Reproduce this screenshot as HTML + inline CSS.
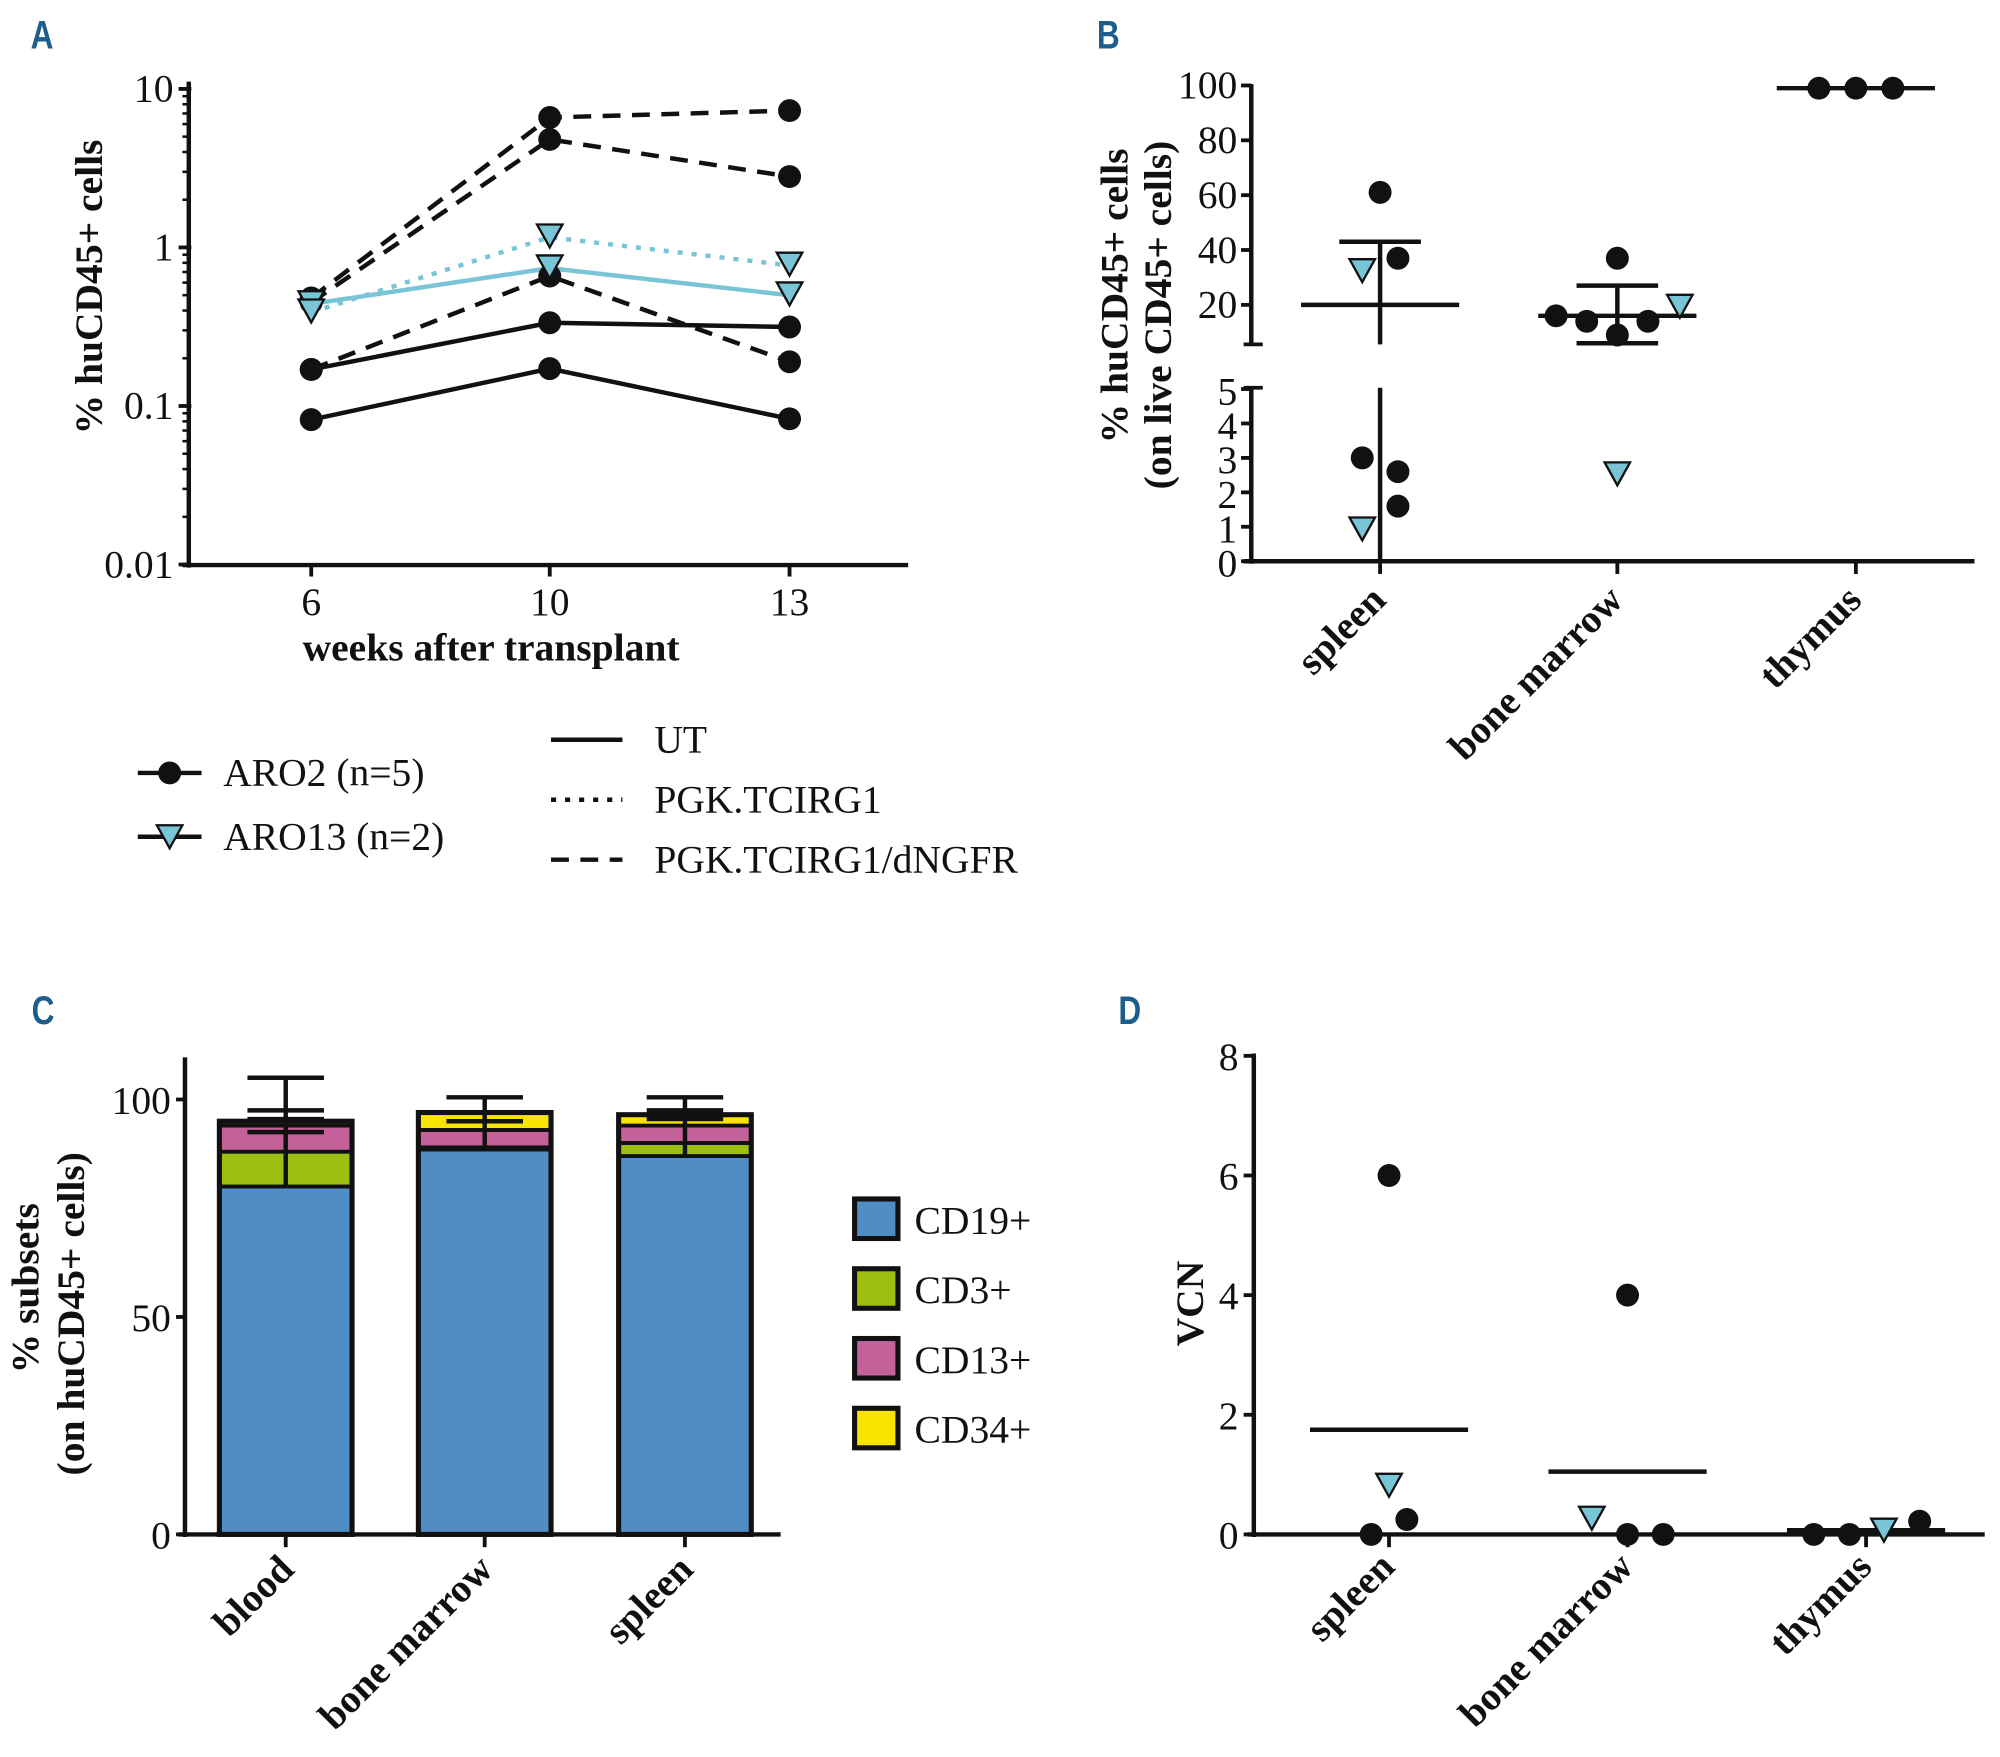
<!DOCTYPE html>
<html><head><meta charset="utf-8">
<style>
html,body{margin:0;padding:0;background:#fff;}
svg{display:block;}
text{font-family:"Liberation Serif",serif;fill:#111;}
.pl{font-family:"Liberation Sans",sans-serif;font-weight:bold;fill:#1d5e8c;font-size:31px;}
.tk{font-size:31px;}
.ttl{font-size:31px;font-weight:bold;}
</style></head>
<body>
<svg id="fig" width="2000" height="1757" viewBox="0 0 1568 1377.5" xmlns="http://www.w3.org/2000/svg">
<text class="pl" x="30" y="38" transform="scale(0.8,1)">A</text>
<text class="pl" x="1075" y="38" transform="scale(0.8,1)">B</text>
<text class="pl" x="31" y="803" transform="scale(0.8,1)">C</text>
<text class="pl" x="1096" y="803" transform="scale(0.8,1)">D</text>
<g id="A"></g>
<g id="B"></g>
<g id="C"></g>
<g id="D"></g>
</svg>
<script>
// ---- Panel A data ----
const aWeeks = ["6","10","13"];
const aTicks = [10,1,0.1,0.01];
const aTickLabels = ["10","1","0.1","0.01"];
const aDash1 = [0.48,6.6,7.3];
const aDash2 = [0.45,4.8,2.8];
const aDash3 = [0.17,0.66,0.19];
const aSolid1 = [0.17,0.335,0.315];
const aSolid2 = [0.082,0.172,0.083];
const aCyanSolid = [0.44,0.74,0.50];
const aCyanDot = [0.39,1.16,0.77];
// ---- Panel B data ----
const bCats = ["spleen","bone marrow","thymus"];
const bUpperTicks = [20,40,60,80,100];
const bLowerTicks = [0,1,2,3,4,5];
const bSpleenDots = [61,37,3.0,2.6,1.6];
const bSpleenTris = [32,0.9];
const bMarrowDots = [37,16,14,9,14];
const bMarrowTris = [19,2.5];
const bThymusDots = [99,99,99];
const bMeans = [20,16,99];
const bErrHi = [43,27,null];
const bErrLo = [0,6,null];
// ---- Panel C data ----
const cCats = ["blood","bone marrow","spleen"];
const cSubsets = ["CD19+","CD3+","CD13+","CD34+"];
const cCD19 = [80,88.5,87];
const cCD3 = [8,0.5,3];
const cCD13 = [6,4,4];
const cCD34 = [1,4,2.5];
const cErrTops = [[105,97.5,95.5,92.5],[100.5,95],[100.5,97.5,95.5]];
const cTicks = [0,50,100];
// ---- Panel D data ----
const dCats = ["spleen","bone marrow","thymus"];
const dTicks = [0,2,4,6,8];
const dDots = [[6,0,0.25],[4,0,0],[0,0,0.22]];
const dTris = [[0.8],[0.25],[0.05]];
const dMeans = [1.75,1.05,0.07];

const NS="http://www.w3.org/2000/svg";
function mk(p,tag,at,txt){const e=document.createElementNS(NS,tag);for(const k in at)e.setAttribute(k,at[k]);if(txt!==undefined)e.textContent=txt;p.appendChild(e);return e;}
function line(p,x1,y1,x2,y2,w,c,dash){const e=mk(p,'line',{x1,y1,x2,y2,stroke:c||'#111','stroke-width':w||3});if(dash)e.setAttribute('stroke-dasharray',dash);return e;}
function dot(p,x,y,r){return mk(p,'circle',{cx:x,cy:y,r:r||9,fill:'#111'});}
function tri(p,x,y,s){s=s||10;return mk(p,'path',{d:`M${x-s},${y-s*0.8}L${x+s},${y-s*0.8}L${x},${y+s*1.0}Z`,fill:'#79c4d6',stroke:'#111','stroke-width':1.8});}
function rotLabel(p,x,y,t){return mk(p,'text',{x,y,'text-anchor':'end',class:'ttl',transform:`rotate(-45 ${x} ${y})`},t);}

// ===== Panel A =====
(function(){
const g=document.getElementById('A');
const xs=[244,431,619];
const ax=i=>xs[i];
const ay=v=>194-Math.log10(v)*124.3;
line(g,148,64,148,445,3.5);line(g,143,443,712,443,3.5);
aTicks.forEach((t,i)=>{line(g,140,ay(t),150,ay(t),3);
const e=mk(g,'text',{x:136,y:ay(t)+10,'text-anchor':'end',class:'tk'},aTickLabels[i]);

});
for(let d=-2;d<1;d++)for(let m=2;m<10;m++){const y=ay(m*Math.pow(10,d));line(g,143,y,148,y,2);}
aWeeks.forEach((w,i)=>{line(g,ax(i),443,ax(i),452,3);
const e=mk(g,'text',{x:ax(i),y:482,'text-anchor':'middle',class:'tk'},w);

});
mk(g,'text',{x:385,y:518,'text-anchor':'middle',class:'ttl'},'weeks after transplant');
mk(g,'text',{x:0,y:0,'text-anchor':'middle',class:'ttl',transform:'translate(80,225) rotate(-90)'},'% huCD45+ cells');
const series=[[aDash1,'#111','14 9','dot'],[aDash2,'#111','14 9','dot'],[aDash3,'#111','14 9','dot'],[aSolid1,'#111',null,'dot'],[aSolid2,'#111',null,'dot'],[aCyanSolid,'#79c4d6',null,'tri'],[aCyanDot,'#79c4d6','4 7','tri']];
series.forEach(s=>{const pl=mk(g,'polyline',{points:s[0].map((v,i)=>ax(i)+','+ay(v)).join(' '),fill:'none',stroke:s[1],'stroke-width':3.5});


if(s[2])pl.setAttribute('stroke-dasharray',s[2]);});
series.forEach(s=>s[0].forEach((v,i)=>{const m=s[3]==='dot'?dot(g,ax(i),ay(v)):tri(g,ax(i),ay(v)-2);

}));
const lg=mk(g,'g',{});


line(lg,108,606,158,606,3.5);dot(lg,133,606,9);
mk(lg,'text',{x:175,y:616,class:'tk'},'ARO2 (n=5)');
line(lg,108,656,158,656,3.5);tri(lg,133,655,10);
mk(lg,'text',{x:175,y:666,class:'tk'},'ARO13 (n=2)');
line(lg,432,580,488,580,3.5);mk(lg,'text',{x:513,y:590,class:'tk'},'UT');
line(lg,432,627,488,627,3.5,'#111','4 7');mk(lg,'text',{x:513,y:637,class:'tk'},'PGK.TCIRG1');
line(lg,432,674,488,674,3.5,'#111','14 9');mk(lg,'text',{x:513,y:684,class:'tk'},'PGK.TCIRG1/dNGFR');
})();

// ===== Panel B =====
(function(){
const g=document.getElementById('B');
const xs=[1082,1268,1455];
const by=v=>v>=5.6?239-(v-20)*2.15:440-v*27;
line(g,981,66,981,271,3.5);line(g,975,270,990,270,3);
line(g,981,303,981,442,3.5);line(g,975,304,990,304,3);
line(g,975,440,1548,440,3.5);
bUpperTicks.forEach(t=>{line(g,973,by(t),981,by(t),3);mk(g,'text',{x:970,y:by(t)+10,'text-anchor':'end',class:'tk'},String(t));});
bLowerTicks.forEach(t=>{line(g,973,by(t),981,by(t),3);mk(g,'text',{x:970,y:by(t)+12,'text-anchor':'end',class:'tk'},String(t));});
bCats.forEach((c,i)=>{line(g,xs[i],440,xs[i],450,3);const e=rotLabel(g,xs[i]+6,472,c);

});
mk(g,'text',{x:0,y:0,'text-anchor':'middle',class:'ttl',transform:'translate(884,232) rotate(-90)'},'% huCD45+ cells');
mk(g,'text',{x:0,y:0,'text-anchor':'middle',class:'ttl',transform:'translate(918,247) rotate(-90)'},'(on live CD45+ cells)');
bMeans.forEach((m,i)=>{const ml=line(g,xs[i]-62,by(m),xs[i]+62,by(m),3.5);


if(bErrHi[i]!==null){line(g,xs[i]-32,by(bErrHi[i]),xs[i]+32,by(bErrHi[i]),3.5);
if(bErrLo[i]>0){line(g,xs[i],by(bErrHi[i]),xs[i],by(bErrLo[i]),3.5);line(g,xs[i]-32,by(bErrLo[i]),xs[i]+32,by(bErrLo[i]),3.5);}
else{line(g,xs[i],by(bErrHi[i]),xs[i],270,3.5);line(g,xs[i],304,xs[i],440,3.5);}}});
const sdx=[0,14,-14,14,14];
bSpleenDots.forEach((v,k)=>{const m=dot(g,xs[0]+sdx[k],by(v));

});
bSpleenTris.forEach(v=>{const m=tri(g,xs[0]-14,by(v)-2);

});
const mdx=[0,-48,-24,0,24];
bMarrowDots.forEach((v,k)=>{const m=dot(g,xs[1]+mdx[k],by(v));

});
const tdx=[49,0];
bMarrowTris.forEach((v,k)=>{const m=tri(g,xs[1]+tdx[k],by(v)-2);

});
bThymusDots.forEach((v,k)=>{const m=dot(g,xs[2]-29+k*29,by(v));

});
})();

// ===== Panel C =====
(function(){
const g=document.getElementById('C');
const xs=[224,380,537];const bw=104;
const cy=v=>1203-v*3.41;
const cols=['#4f8dc4','#9cbf11','#c46199','#f8e400'];
const segs=[cCD19,cCD3,cCD13,cCD34];
cCats.forEach((c,i)=>{let acc=0;
segs.forEach((s,k)=>{const v=s[i];const r=mk(g,'rect',{x:xs[i]-bw/2,y:cy(acc+v),width:bw,height:v*3.41,fill:cols[k],stroke:'#111','stroke-width':3});


acc+=v;});
mk(g,'rect',{x:xs[i]-bw/2,y:cy(acc),width:bw,height:acc*3.41,fill:'none',stroke:'#111','stroke-width':4});
const tops=cErrTops[i];const mx=Math.max(...tops);
line(g,xs[i],cy(mx),xs[i],cy(cCD19[i]),3.5);
tops.forEach(t=>line(g,xs[i]-30,cy(t),xs[i]+30,cy(t),3.5));
line(g,xs[i],1203,xs[i],1213,3);
const e=rotLabel(g,xs[i]+8,1232,c);

});
line(g,145,829,145,1205,3.5);line(g,140,1203,612,1203,3.5);
cTicks.forEach(t=>{line(g,138,cy(t),145,cy(t),3);mk(g,'text',{x:134,y:cy(t)+11,'text-anchor':'end',class:'tk'},String(t));});
mk(g,'text',{x:0,y:0,'text-anchor':'middle',class:'ttl',transform:'translate(30,1010) rotate(-90)'},'% subsets');
mk(g,'text',{x:0,y:0,'text-anchor':'middle',class:'ttl',transform:'translate(66,1030) rotate(-90)'},'(on huCD45+ cells)');
cSubsets.forEach((s,k)=>{const y=940+k*54.7;
const r=mk(g,'rect',{x:670,y:y,width:34,height:31,fill:cols[k],stroke:'#111','stroke-width':4});


mk(g,'text',{x:717,y:y+27,class:'tk'},s);});
})();

// ===== Panel D =====
(function(){
const g=document.getElementById('D');
const xs=[1089,1276,1463];
const dy=v=>1203-v*46.9;
const AX=983;
line(g,AX,826,AX,1205,3.5);line(g,AX-5,1203,1556,1203,3.5);
dTicks.forEach(t=>{line(g,AX-8,dy(t),AX,dy(t),3);mk(g,'text',{x:AX-12,y:dy(t)+11,'text-anchor':'end',class:'tk'},String(t));});
mk(g,'text',{x:0,y:0,'text-anchor':'middle',class:'ttl',transform:'translate(943,1022) rotate(-90)'},'VCN');
dCats.forEach((c,i)=>{line(g,xs[i],1203,xs[i],1213,3);const e=rotLabel(g,xs[i]+6,1230,c);

});
dMeans.forEach((m,i)=>{const l=line(g,xs[i]-62,dy(m),xs[i]+62,dy(m),3.5);

});
const ddx=[[0,-14,14],[0,0,28],[-41,-13,42]];
dDots.forEach((arr,i)=>arr.forEach((v,k)=>{const m=dot(g,xs[i]+ddx[i][k],dy(v));

}));
const tdx=[0,-28,14];
dTris.forEach((arr,i)=>arr.forEach(v=>{const m=tri(g,xs[i]+tdx[i],dy(v)-2);

}));
})();
</script>
</body></html>
